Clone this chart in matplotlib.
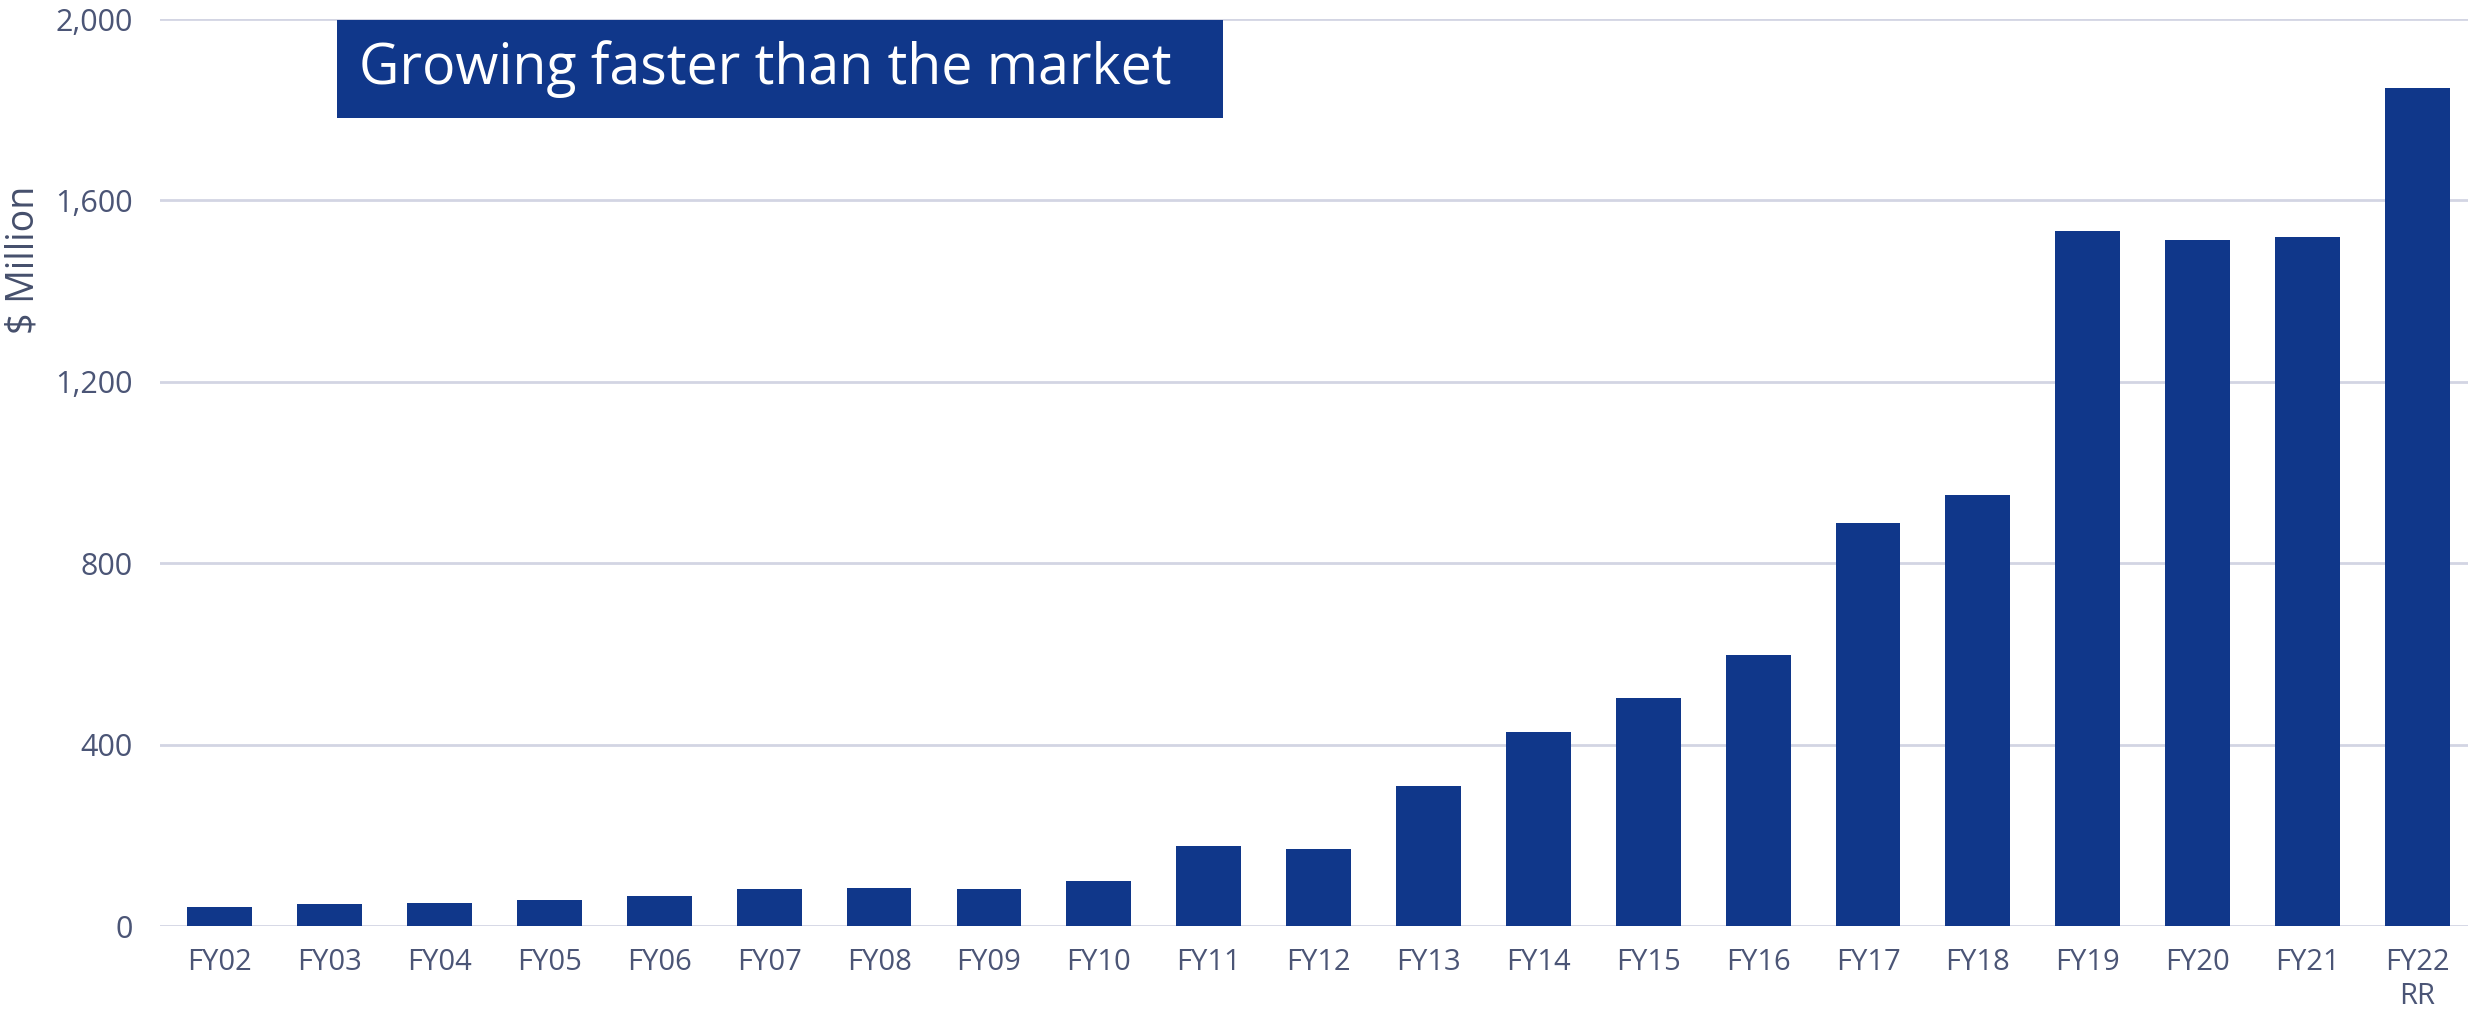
import numpy as np
import matplotlib
matplotlib.use('Agg')
import matplotlib.pyplot as plt
from matplotlib.patches import Rectangle
from matplotlib.ticker import FuncFormatter

# 数据
years = ['FY02', 'FY03', 'FY04', 'FY05', 'FY06', 'FY07', 'FY08', 'FY09', 'FY10', 'FY11',
         'FY12', 'FY13', 'FY14', 'FY15', 'FY16', 'FY17', 'FY18', 'FY19', 'FY20', 'FY21',
         'FY22\nRR']
revenue = [43, 48, 51, 57, 66, 82, 83, 82, 100, 177,
           170, 309, 427, 503, 597, 889, 951, 1532, 1513, 1520,
           1848]
yticks = [0, 400, 800, 1200, 1600, 2000]
title = 'Growing faster than the market'

bar_color = '#10378a'
text_color = '#4b5576'
grid_color = '#d3d5e3'

plt.rcParams['font.family'] = ['Open Sans', 'DejaVu Sans']

fig = plt.figure(figsize=(24.68, 10.23), dpi=100)
ax = fig.add_axes([0.065, 0.0948, 0.935, 0.8866])

x = np.arange(len(years))
ax.bar(x, revenue, width=0.59, color=bar_color, zorder=3)

ax.set_xlim(-0.54, len(years) - 0.54)
ax.set_ylim(0, 2000)
ax.set_yticks(yticks)
ax.yaxis.set_major_formatter(FuncFormatter(lambda v, p: '{:,.0f}'.format(v)))
ax.set_xticks(x)
ax.set_xticklabels(years)

ax.grid(axis='y', color=grid_color, linewidth=2, zorder=0)
for s in ax.spines.values():
    s.set_visible(False)
ax.tick_params(axis='y', length=0, pad=20, labelsize=22, labelcolor=text_color)
ax.tick_params(axis='x', length=0, pad=16, labelsize=21, labelcolor=text_color)

fig.text(0.0095, 0.746, '$ Million', rotation=90, ha='center', va='center',
         fontsize=27, color='#454f6c')

# 标题框
ax.add_patch(Rectangle((0.0765, 0.8908), 0.384, 0.108, transform=ax.transAxes,
                       facecolor=bar_color, edgecolor='none', zorder=5, clip_on=False))
ax.text(0.086, 0.9449, title, transform=ax.transAxes, ha='left', va='center',
        fontsize=40, color='white', zorder=6)

fig.savefig('out.png', dpi=100)
